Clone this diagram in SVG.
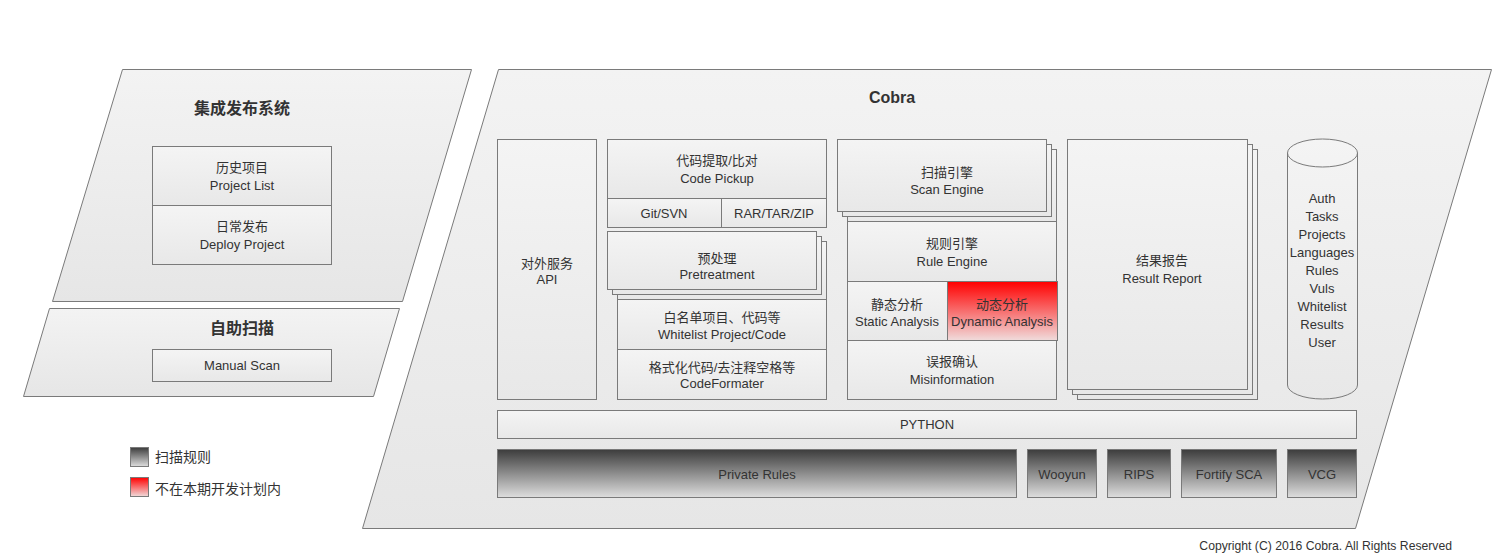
<svg xmlns="http://www.w3.org/2000/svg" width="1492" height="553" viewBox="0 0 1492 553">
<defs>
<linearGradient id="gPara" x1="0" y1="0" x2="0" y2="1"><stop offset="0" stop-color="#f3f3f3"/><stop offset="1" stop-color="#e6e6e6"/></linearGradient>
<linearGradient id="gBox" x1="0" y1="0" x2="0" y2="1"><stop offset="0" stop-color="#f4f4f4"/><stop offset="1" stop-color="#e8e8e8"/></linearGradient>
<linearGradient id="gDark" x1="0" y1="0" x2="0" y2="1"><stop offset="0" stop-color="#3c3c3c"/><stop offset="1" stop-color="#dedede"/></linearGradient>
<linearGradient id="gRed" x1="0" y1="0" x2="0" y2="1"><stop offset="0" stop-color="#ff0000"/><stop offset="1" stop-color="#f0dcdc"/></linearGradient>
</defs>
<style>
.para{fill:url(#gPara);stroke:#7a7a7a;stroke-width:1}
.box{fill:url(#gBox);stroke:#7a7a7a;stroke-width:1}
.dark{fill:url(#gDark);stroke:#7a7a7a;stroke-width:1}
.red{fill:url(#gRed);stroke:#7a7a7a;stroke-width:1}
text{font-family:"Liberation Sans","Noto Sans CJK SC",sans-serif;font-size:13px;fill:#333;text-anchor:middle}
.title{font-size:16px;font-weight:bold}
.left{text-anchor:start;font-size:14px}
.copy{font-size:12.2px;text-anchor:end}
</style>
<rect width="1492" height="553" fill="#ffffff"/>

<g id="ci-system">
<polygon class="para" points="122.5,69.5 471.5,69.5 402.5,301.5 52.5,301.5"/>
<text class="title" x="242" y="114">集成发布系统</text>
</g>
<g id="project-list">
<rect class="box" x="152.5" y="146.5" width="179" height="59"/>
<text x="242" y="171.5">历史项目</text>
<text x="242" y="189.5">Project List</text>
</g>
<g id="deploy-project">
<rect class="box" x="152.5" y="205.5" width="179" height="59"/>
<text x="242" y="230.5">日常发布</text>
<text x="242" y="248.5">Deploy Project</text>
</g>

<g id="self-scan">
<polygon class="para" points="49.5,308.5 399.5,308.5 373.5,396.5 23.5,396.5"/>
<text class="title" x="242" y="334">自助扫描</text>
</g>
<g id="manual-scan">
<rect class="box" x="152.5" y="349.5" width="179" height="32"/>
<text x="242" y="370">Manual Scan</text>
</g>

<g id="cobra">
<polygon class="para" points="498.5,69.5 1491.5,69.5 1355.5,528.5 362.5,528.5"/>
<text class="title" x="892" y="103">Cobra</text>
</g>

<g id="api">
<rect class="box" x="497.5" y="139.5" width="99" height="260"/>
<text x="547" y="267.5">对外服务</text>
<text x="547" y="283.5">API</text>
</g>

<g id="code-pickup">
<rect class="box" x="607.5" y="139.5" width="219" height="59"/>
<text x="717" y="164.5">代码提取/比对</text>
<text x="717" y="182.5">Code Pickup</text>
</g>
<g id="git-svn">
<rect class="box" x="607.5" y="198.5" width="114" height="29"/>
<text x="664" y="217.5">Git/SVN</text>
</g>
<g id="rar-tar-zip">
<rect class="box" x="721.5" y="198.5" width="105" height="29"/>
<text x="774" y="217.5">RAR/TAR/ZIP</text>
</g>

<g id="pretreatment">
<rect class="box" x="617.5" y="241.5" width="209" height="58"/>
<rect class="box" x="612.5" y="236.5" width="209" height="58"/>
<rect class="box" x="607.5" y="231.5" width="209" height="58"/>
<text x="717" y="262.5">预处理</text>
<text x="717" y="278.5">Pretreatment</text>
</g>
<g id="whitelist">
<rect class="box" x="617.5" y="299.5" width="209" height="50"/>
<text x="722" y="321.5">白名单项目、代码等</text>
<text x="722" y="338.5">Whitelist Project/Code</text>
</g>
<g id="code-formater">
<rect class="box" x="617.5" y="349.5" width="209" height="50"/>
<text x="722" y="371.5">格式化代码/去注释空格等</text>
<text x="722" y="387.5">CodeFormater</text>
</g>

<g id="scan-engine">
<rect class="box" x="847.5" y="149.5" width="209" height="72"/>
<rect class="box" x="842.5" y="144.5" width="209" height="72"/>
<rect class="box" x="837.5" y="139.5" width="209" height="72"/>
<text x="947" y="176.5">扫描引擎</text>
<text x="947" y="193.5">Scan Engine</text>
</g>
<g id="rule-engine">
<rect class="box" x="847.5" y="221.5" width="209" height="60"/>
<text x="952" y="247.5">规则引擎</text>
<text x="952" y="265.5">Rule Engine</text>
</g>
<g id="static-analysis">
<rect class="box" x="847.5" y="281.5" width="100" height="59"/>
<text x="897" y="308.5">静态分析</text>
<text x="897" y="325.5">Static Analysis</text>
</g>
<g id="dynamic-analysis">
<rect class="red" x="947.5" y="281.5" width="110" height="59"/>
<text x="1002" y="308.5">动态分析</text>
<text x="1002" y="325.5">Dynamic Analysis</text>
</g>
<g id="misinformation">
<rect class="box" x="847.5" y="340.5" width="209" height="59"/>
<text x="952" y="365.5">误报确认</text>
<text x="952" y="383.5">Misinformation</text>
</g>

<g id="result-report">
<rect class="box" x="1077.5" y="149.5" width="180" height="250"/>
<rect class="box" x="1072.5" y="144.5" width="180" height="250"/>
<rect class="box" x="1067.5" y="139.5" width="180" height="250"/>
<text x="1162" y="264.5">结果报告</text>
<text x="1162" y="282.5">Result Report</text>
</g>

<g id="database">
<path class="box" d="M1287.5,153 A35,14 0 0 1 1357.5,153 L1357.5,385 A35,14 0 0 1 1287.5,385 Z"/>
<path d="M1287.5,153 A35,14 0 0 0 1357.5,153" fill="none" stroke="#7a7a7a" stroke-width="1"/>
<text x="1322" y="202.5">Auth</text>
<text x="1322" y="220.5">Tasks</text>
<text x="1322" y="238.5">Projects</text>
<text x="1322" y="256.5">Languages</text>
<text x="1322" y="274.5">Rules</text>
<text x="1322" y="292.5">Vuls</text>
<text x="1322" y="310.5">Whitelist</text>
<text x="1322" y="328.5">Results</text>
<text x="1322" y="346.5">User</text>
</g>

<g id="python">
<rect class="box" x="497.5" y="410.5" width="859" height="28"/>
<text x="927" y="429">PYTHON</text>
</g>
<g id="private-rules">
<rect class="dark" x="497.5" y="449.5" width="519" height="48"/>
<text x="757" y="478.5">Private Rules</text>
</g>
<g id="wooyun">
<rect class="dark" x="1027.5" y="449.5" width="69" height="48"/>
<text x="1062" y="478.5">Wooyun</text>
</g>
<g id="rips">
<rect class="dark" x="1107.5" y="449.5" width="63" height="48"/>
<text x="1139" y="478.5">RIPS</text>
</g>
<g id="fortify">
<rect class="dark" x="1181.5" y="449.5" width="95" height="48"/>
<text x="1229" y="478.5">Fortify SCA</text>
</g>
<g id="vcg">
<rect class="dark" x="1287.5" y="449.5" width="69" height="48"/>
<text x="1322" y="478.5">VCG</text>
</g>

<g id="legend">
<rect class="dark" x="130.5" y="447.5" width="18" height="19"/>
<text class="left" x="155" y="462">扫描规则</text>
<rect class="red" x="130.5" y="477.5" width="18" height="19"/>
<text class="left" x="155" y="494">不在本期开发计划内</text>
</g>

<g id="connectors"></g>

<text class="copy" x="1452" y="550">Copyright (C) 2016 Cobra. All Rights Reserved</text>
</svg>
